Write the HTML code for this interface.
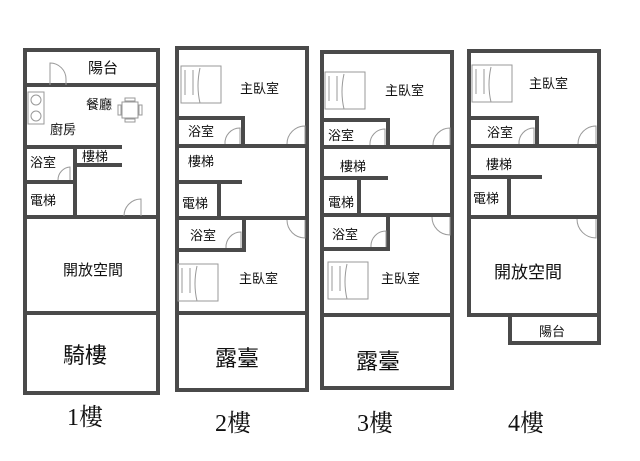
<!DOCTYPE html>
<html><head><meta charset="utf-8"><style>
body{margin:0;background:#fff}
svg{display:block}
text{font-family:"Liberation Sans","Noto Sans CJK TC",sans-serif;fill:#111}
.s{font-family:"Liberation Serif","Noto Serif CJK SC",serif}
</style></head><body>
<svg width="640" height="461" viewBox="0 0 640 461">
<g fill="none" stroke="#4a4a4a" stroke-width="4">
<rect x="25" y="50" width="133" height="343"/>
<line x1="25" y1="85" x2="158" y2="85"/>
<line x1="25" y1="147" x2="75" y2="147"/>
<line x1="75" y1="147" x2="122" y2="147"/>
<line x1="75" y1="165" x2="122" y2="165"/>
<line x1="75" y1="147" x2="75" y2="217"/>
<line x1="25" y1="182" x2="73" y2="182"/>
<line x1="25" y1="217" x2="158" y2="217"/>
<line x1="25" y1="313" x2="158" y2="313"/>
<rect x="177" y="48" width="130" height="342"/>
<polyline points="177,118 243,118 243,146"/>
<line x1="177" y1="146" x2="307" y2="146"/>
<line x1="177" y1="182" x2="242" y2="182"/>
<line x1="219" y1="182" x2="219" y2="218"/>
<line x1="177" y1="218" x2="307" y2="218"/>
<polyline points="244,218 244,250 177,250"/>
<line x1="177" y1="313" x2="307" y2="313"/>
<rect x="322" y="52" width="130" height="336"/>
<polyline points="322,120 388,120 388,147"/>
<line x1="322" y1="147" x2="452" y2="147"/>
<line x1="322" y1="178" x2="388" y2="178"/>
<line x1="359" y1="178" x2="359" y2="215"/>
<line x1="322" y1="215" x2="452" y2="215"/>
<polyline points="388,215 388,249 322,249"/>
<line x1="322" y1="315" x2="452" y2="315"/>
<rect x="469" y="51" width="130" height="264"/>
<polyline points="469,118 537,118 537,146"/>
<line x1="469" y1="146" x2="599" y2="146"/>
<line x1="469" y1="177" x2="542" y2="177"/>
<line x1="509" y1="177" x2="509" y2="217"/>
<line x1="469" y1="217" x2="599" y2="217"/>
<polyline points="510,315 510,343 599,343 599,315"/>
</g>
<g fill="none" stroke="#999" stroke-width="1">
<path d="M50 85 V63 A16 16 0 0 1 66 79 V85"/>
<path d="M141 216 V199 A17 17 0 0 0 124 216"/>
<path d="M70 180 V167 A13 13 0 0 0 58 180"/>
<path d="M240 144 V128 A15 15 0 0 0 225 144"/>
<path d="M305 144 V126 A18 18 0 0 0 287 144"/>
<path d="M241 248 V232 A15 15 0 0 0 226 248"/>
<path d="M305 220 V238 A18 18 0 0 1 287 220"/>
<path d="M385 145 V129 A15 15 0 0 0 370 145"/>
<path d="M450 145 V128 A17 17 0 0 0 433 145"/>
<path d="M386 247 V231 A15 15 0 0 0 371 247"/>
<path d="M450 217 V235 A18 18 0 0 1 432 217"/>
<path d="M534 144 V128 A15 15 0 0 0 519 144"/>
<path d="M596 144 V126 A18 18 0 0 0 578 144"/>
<path d="M596 219 V238 A19 19 0 0 1 577 219"/>
<rect x="181" y="66" width="40" height="37"/><path d="M185 70v25 M193 70v25 M200 68q-4 18 0 35"/>
<rect x="178" y="264" width="40" height="37"/><path d="M182 268v25 M190 268v25 M197 266q-4 18 0 35"/>
<rect x="325" y="72" width="40" height="37"/><path d="M329 76v25 M337 76v25 M344 74q-4 18 0 35"/>
<rect x="328" y="262" width="40" height="37"/><path d="M332 266v25 M340 266v25 M347 264q-4 18 0 35"/>
<rect x="472" y="65" width="40" height="37"/><path d="M476 69v25 M484 69v25 M491 67q-4 18 0 35"/>
<rect x="28" y="92" width="16" height="32"/>
<circle cx="36" cy="100" r="5"/><circle cx="36" cy="116" r="5"/>
<rect x="122" y="102" width="16" height="16"/>
<rect x="125" y="98" width="10" height="3"/><rect x="125" y="119" width="10" height="3"/>
<rect x="118" y="105" width="3" height="10"/><rect x="139" y="105" width="3" height="10"/>
</g>
<g font-size="13">
<text x="88" y="73" font-size="15">陽台</text>
<text x="86" y="109">餐廳</text>
<text x="50" y="134">廚房</text>
<text x="82" y="161">樓梯</text>
<text x="30" y="167">浴室</text>
<text x="30" y="205">電梯</text>
<text x="63" y="275" font-size="15">開放空間</text>
<text x="63" y="363" font-size="22">騎樓</text>
<text x="240" y="93">主臥室</text>
<text x="188" y="136">浴室</text>
<text x="188" y="166">樓梯</text>
<text x="182" y="208">電梯</text>
<text x="190" y="240">浴室</text>
<text x="239" y="283">主臥室</text>
<text x="215" y="366" font-size="22">露臺</text>
<text x="385" y="95">主臥室</text>
<text x="328" y="140">浴室</text>
<text x="340" y="171">樓梯</text>
<text x="328" y="207">電梯</text>
<text x="332" y="239">浴室</text>
<text x="381" y="283">主臥室</text>
<text x="356" y="369" font-size="22">露臺</text>
<text x="529" y="88">主臥室</text>
<text x="487" y="137">浴室</text>
<text x="486" y="169">樓梯</text>
<text x="473" y="203">電梯</text>
<text x="494" y="278" font-size="17">開放空間</text>
<text x="539" y="336">陽台</text>
</g>
<g font-size="24">
<text x="67" y="425" class="s">1樓</text>
<text x="215" y="431" class="s">2樓</text>
<text x="357" y="431" class="s">3樓</text>
<text x="508" y="431" class="s">4樓</text>
</g>
</svg>
</body></html>
